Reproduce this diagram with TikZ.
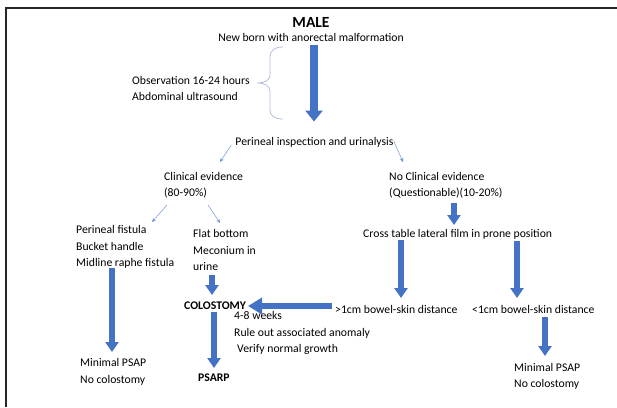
\documentclass[tikz,border=0pt]{standalone}
\usepackage{fontspec}
\setmainfont{Carlito}
\usetikzlibrary{arrows.meta,calc}
\definecolor{arrblue}{RGB}{68,114,196}
\definecolor{thinblue}{RGB}{110,150,215}
\definecolor{bracecol}{RGB}{175,190,220}
\begin{document}
\begin{tikzpicture}[x=1pt,y=-1pt,
  txt/.style={inner sep=0pt,anchor=west,align=left,font=\fontsize{11.7}{16.5}\selectfont},
  ctxt/.style={inner sep=0pt,font=\fontsize{11.7}{16.5}\selectfont},
  btxt/.style={inner sep=0pt,anchor=west,font=\bfseries\fontsize{11.7}{16.5}\selectfont},
  bigarr/.style={draw=arrblue,line width=8pt,-{Triangle[width=17pt,length=11pt]}},
  midarr/.style={draw=arrblue,line width=5.5pt,-{Triangle[width=13pt,length=10pt]}},
  horarr/.style={draw=arrblue,line width=6pt,-{Triangle[width=16pt,length=14pt]}},
  thinarr/.style={draw=thinblue,line width=0.5pt,-{Stealth[length=4pt,width=3.5pt]}},
  frame/.style={draw=black!85,line width=1.6pt}
]
\useasboundingbox (0,0) rectangle (617,407);
\draw[frame] (6,407) -- (6,8) -- (617,8);

\node[inner sep=0pt,font=\bfseries\fontsize{15.5}{17}\selectfont] (male) at (311,22) {MALE};
\node[ctxt] (newborn) at (311,37) {New born with anorectal malformation};
\node[txt] (obs) at (132,88.5) {Observation 16-24 hours\\Abdominal ultrasound};
\node[ctxt] (peri) at (314.5,142) {Perineal inspection and urinalysis};
\node[txt] (clin) at (164,185) {Clinical evidence\\(80-90\%)};
\node[txt] (noclin) at (389,185) {No Clinical evidence\\(Questionable)(10-20\%)};
\node[txt] (fist) at (76,247) {Perineal fistula\\Bucket handle\\Midline raphe fistula};
\node[txt] (flat) at (193,250) {Flat bottom\\Meconium in\\urine};
\node[txt] (cross) at (363,234) {Cross table lateral film in prone position};
\node[txt] (gt) at (335,309) {>1cm bowel-skin distance};
\node[txt] (lt) at (472,309) {<1cm bowel-skin distance};
\node[txt] (minr) at (514,376.5) {Minimal PSAP\\No colostomy};
\node[txt] (minl) at (80,372) {Minimal PSAP\\No colostomy};
\node[btxt] (colo) at (184,306) {COLOSTOMY};
\node[txt] (weeks) at (234,333) {4-8 weeks\\Rule out associated anomaly\\\hspace{3pt}Verify normal growth};
\node[btxt] (psarp) at (198,378) {PSARP};

% brace
\draw[bracecol,line width=0.8pt] (283,47) .. controls (275,47) and (270,50) .. (270,57) -- (270,75)
  .. controls (270,80) and (265,83) .. (257,83) .. controls (265,83) and (270,86) .. (270,91)
  -- (270,110) .. controls (270,116) and (275,119) .. (283,119);

% main arrow
\draw[bigarr] ($(newborn.center)+(3,8)$) -- ($(peri.center)+(-0.5,-20.5)$);

% thin arrows
\draw[thinarr] ($(peri.west)+(-4,3)$) -- ($(clin.west)+(56,-23)$);
\draw[thinarr] ($(peri.east)+(0,-1)$) -- ($(noclin.west)+(14,-23)$);
\draw[thinarr] ($(clin.west)+(3,20)$) -- ($(fist.west)+(76,-25)$);
\draw[thinarr] ($(clin.west)+(44,20)$) -- ($(flat.west)+(27,-27)$);

% block arrows
\draw[midarr] ($(noclin.west)+(65,18)$) -- ($(cross.west)+(91,-9)$);
\draw[midarr] ($(cross.west)+(38,6)$) -- ($(gt.west)+(66,-11)$);
\draw[midarr] ($(cross.west)+(154,7)$) -- ($(lt.west)+(45,-11)$);
\draw[midarr] ($(lt.west)+(73,8)$) -- ($(minr.west)+(31,-20.5)$);
\draw[midarr] ($(fist.west)+(36,21)$) -- ($(minl.west)+(32,-20)$);
\draw[midarr] ($(flat.west)+(19,25)$) -- ($(colo.west)+(28,-11)$);
\draw[horarr] ($(gt.west)+(-3,-3)$) -- ($(colo.west)+(64,0)$);
\draw[midarr] ($(colo.west)+(30,6)$) -- ($(psarp.west)+(16,-10)$);
\end{tikzpicture}
\end{document}
